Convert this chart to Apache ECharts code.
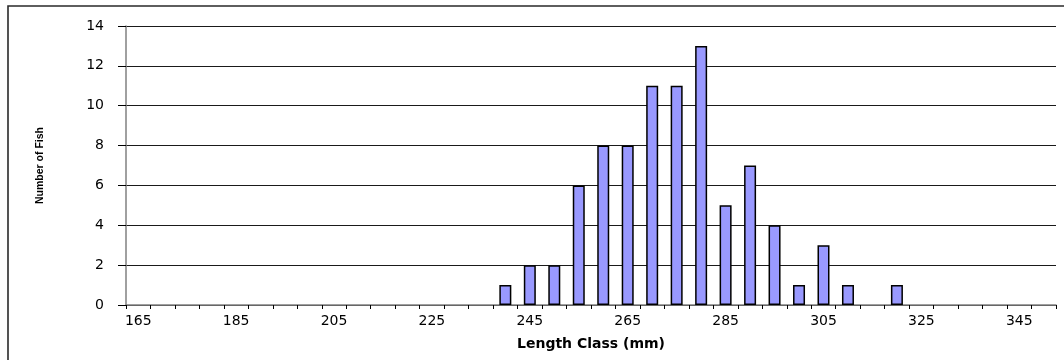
<!DOCTYPE html>
<html><head><meta charset="utf-8">
<script src="https://cdn.jsdelivr.net/npm/echarts@6/dist/echarts.min.js"></script>
<style>html,body{margin:0;padding:0;background:#fff}#c{width:1064px;height:360px}</style>
</head><body><div id="c"></div>
<script>
const categories = ['165','170','175','180','185','190','195','200','205','210','215','220','225','230','235','240','245','250','255','260','265','270','275','280','285','290','295','300','305','310','315','320','325','330','335','340','345','350'];
const fishCounts = [0,0,0,0,0,0,0,0,0,0,0,0,0,0,0,1,2,2,6,8,8,11,11,13,5,7,4,1,3,1,0,1,0,0,0,0,0,0];
const yTicks = [0,2,4,6,8,10,12,14];
const xTitle = 'Length Class (mm)';
const yTitle = 'Number of Fish';

const chart = echarts.init(document.getElementById('c'), null, {renderer:'canvas'});
const font = 'DejaVu Sans';
chart.setOption({
  animation:false,
  graphic:[{type:'rect',shape:{x:8,y:6,width:1080,height:400},style:{fill:'none',stroke:'#2a2a2a',lineWidth:1.6},silent:true}],
  grid:{left:126,right:8,top:26,bottom:55,containLabel:false},
  xAxis:{type:'category',data:categories,boundaryGap:true,
    name:xTitle,nameLocation:'middle',nameGap:32,
    nameTextStyle:{fontFamily:font,fontWeight:'bold',fontSize:14,color:'#000'},
    axisLine:{lineStyle:{color:'#808080',width:1.5}},
    axisTick:{show:true,interval:0,length:4,lineStyle:{color:'#000'}},
    axisLabel:{interval:3,fontFamily:font,fontSize:14,color:'#000',margin:9},
    splitLine:{show:false}},
  yAxis:{type:'value',min:yTicks[0],max:yTicks[yTicks.length-1],interval:2,
    name:yTitle,nameLocation:'middle',nameRotate:90,nameGap:80,
    nameTextStyle:{fontFamily:'Liberation Sans',fontWeight:'bold',fontSize:10.5,color:'#000'},
    axisLine:{show:true,lineStyle:{color:'#808080',width:1.5}},
    axisTick:{show:true,length:8,lineStyle:{color:'#000'}},
    axisLabel:{fontFamily:font,fontSize:14,color:'#000',margin:22},
    splitLine:{show:true,lineStyle:{color:'#1a1a1a',width:1}}},
  series:[{type:'bar',data:fishCounts.map(v=>v===0?null:v),barWidth:12,
    itemStyle:{color:'#9999FF',borderColor:'#000',borderWidth:1.5}}]
});
</script></body></html>
